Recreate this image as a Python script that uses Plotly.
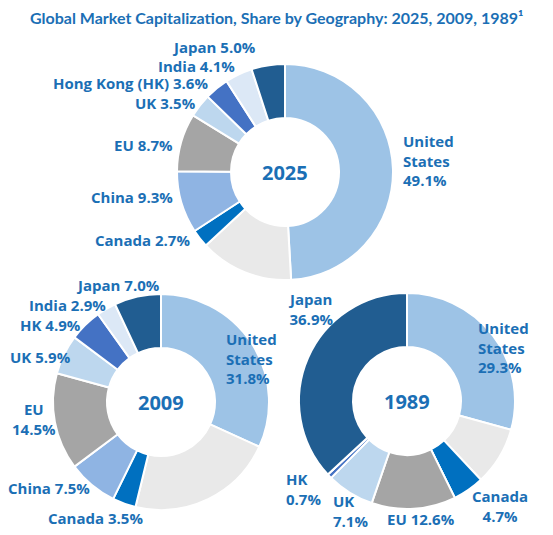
import plotly.graph_objects as go

# ---------------- data ----------------
regions = ["United States", "Other", "Canada", "China", "EU", "UK", "Hong Kong", "India", "Japan"]
share_2025 = [49.1, 14.0, 2.7, 9.3, 8.7, 3.5, 3.6, 4.1, 5.0]
share_2009 = [31.8, 22.0, 3.5, 7.5, 14.5, 5.9, 4.9, 2.9, 7.0]
share_1989 = [29.3, 8.7, 4.7, 0.0, 12.6, 7.1, 0.7, 0.0, 36.9]
years = ["2025", "2009", "1989"]

# label names per chart (None = no label)
names_2025 = ["United<br>States<br>", None, "Canada ", "China ", "EU ", "UK ", "Hong Kong (HK) ", "India ", "Japan "]
names_2009 = ["United<br>States<br>", None, "Canada ", "China ", "EU<br>", "UK ", "HK ", "India ", "Japan "]
names_1989 = ["United<br>States<br>", None, "Canada<br>", None, "EU ", "UK<br>", "HK<br>", None, "Japan<br>"]

title = "Global Market Capitalization, Share by Geography: 2025, 2009, 1989¹"

# ---------------- styles / layout ----------------
OFF = 8                      # browser body margin
W, H = 553 - OFF, 535 - OFF
colors = ["#9dc3e6", "#e9e9e9", "#0070c0", "#8fb4e3", "#a5a5a5",
          "#bdd7ee", "#4472c4", "#dce8f6", "#215d91"]
text_color = "#1b6fb5"
label_family = "'Open Sans', Lato, sans-serif"
title_family = "Lato, 'Open Sans', sans-serif"

centers = [(285, 172), (161, 402), (407, 401)]
radius = 108

# label positions (screen px) per chart, per region: (x, y_center, xanchor)
pos_2025 = [(401, 161, "left"), None, (192, 240, "right"), (175, 197, "right"),
            (175, 145, "right"), (198, 103, "right"), (210, 83, "right"),
            (237, 66, "right"), (258, 47, "right")]
pos_2009 = [(224, 358, "left"), None, (145, 518, "right"), (92, 488, "right"),
            (34, 419, "center"), (73, 357, "right"), (83, 325, "right"),
            (108, 305, "right"), (162, 285, "right")]
pos_1989 = [(476, 347, "left"), None, (500, 506, "center"), None,
            (457, 519, "right"), (331, 511, "left"), (284, 489, "left"),
            None, (310, 309, "center")]


def px_x(x):
    return (x - OFF) / W


def px_y(y):
    return 1 - (y - OFF) / H


fig = go.Figure()

all_shares = [share_2025, share_2009, share_1989]
all_names = [names_2025, names_2009, names_1989]
all_pos = [pos_2025, pos_2009, pos_1989]

label_font = dict(family=label_family, size=15, color=text_color, weight="bold")

annotations = []
for year, shares, names, positions, (cx, cy) in zip(years, all_shares, all_names, all_pos, centers):
    fig.add_trace(go.Pie(
        labels=regions, values=shares, sort=False, direction="clockwise",
        rotation=0, hole=0.5, textinfo="none", hoverinfo="label+percent",
        marker=dict(colors=colors, line=dict(color="white", width=2)),
        domain=dict(x=[px_x(cx - radius), px_x(cx + radius)],
                    y=[px_y(cy + radius), px_y(cy - radius)]),
        showlegend=False,
    ))
    annotations.append(dict(
        text=year, x=px_x(cx), y=px_y(cy), xref="paper", yref="paper",
        showarrow=False, xanchor="center", yanchor="middle",
        font=dict(family=label_family, size=20, color=text_color, weight="bold"),
    ))
    for name, val, p in zip(names, shares, positions):
        if name is None or p is None:
            continue
        px, py, anchor = p
        annotations.append(dict(
            text=f"{name}{val:.1f}%", x=px_x(px), y=px_y(py),
            xref="paper", yref="paper", showarrow=False,
            xanchor=anchor, yanchor="middle", align=anchor,
            font=label_font,
        ))

annotations.append(dict(
    text=title, x=px_x(276), y=px_y(17), xref="paper", yref="paper",
    showarrow=False, xanchor="center", yanchor="middle",
    font=dict(family=title_family, size=16, color=text_color, weight="bold"),
))

fig.update_layout(
    width=W, height=H, margin=dict(l=0, r=0, t=0, b=0),
    paper_bgcolor="white", plot_bgcolor="white",
    annotations=annotations,
)

fig.write_html("out.html")
